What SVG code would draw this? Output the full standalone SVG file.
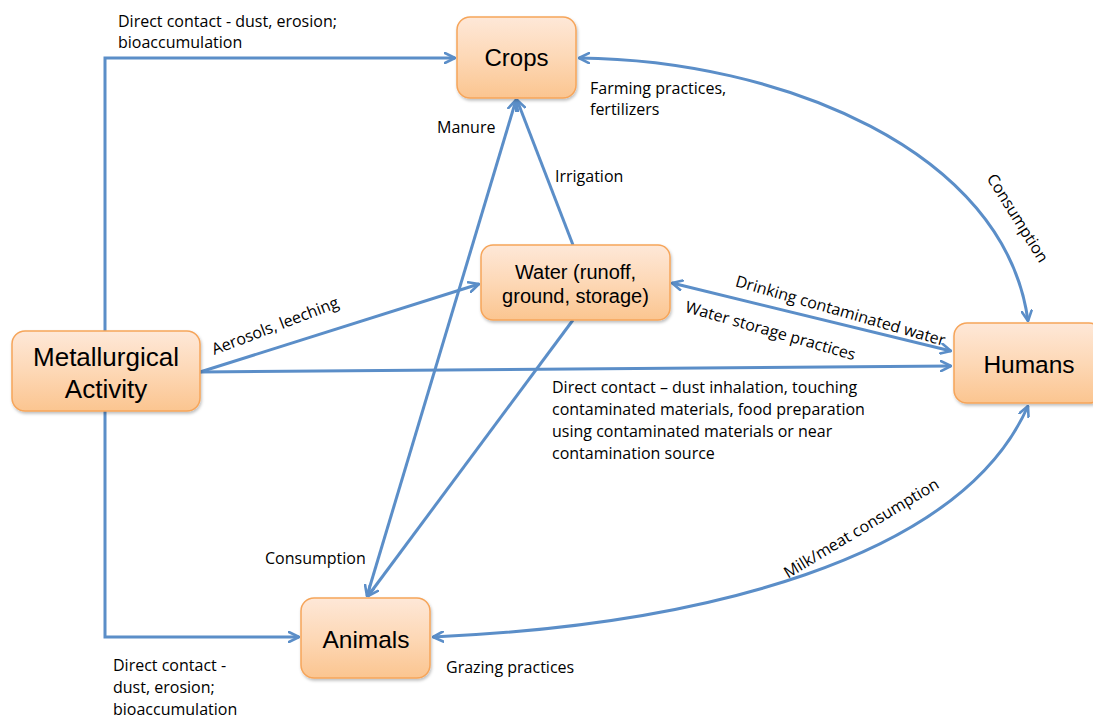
<svg xmlns="http://www.w3.org/2000/svg" width="1093" height="719" viewBox="0 0 1093 719">
  <defs>
    <linearGradient id="boxFill" x1="0" y1="0" x2="0" y2="1">
      <stop offset="0" stop-color="#fee8d8"/>
      <stop offset="0.5" stop-color="#fdd8b6"/>
      <stop offset="1" stop-color="#fbc590"/>
    </linearGradient>
    <filter id="shadow" x="-10%" y="-10%" width="130%" height="130%">
      <feDropShadow dx="1" dy="2" stdDeviation="1.5" flood-color="#000" flood-opacity="0.25"/>
    </filter>
    <marker id="arrow" viewBox="0 0 12 12" refX="11" refY="6" markerWidth="12" markerHeight="12" markerUnits="userSpaceOnUse" orient="auto-start-reverse">
      <path d="M1,1 L11,6 L1,11" fill="none" stroke="#5b8ec8" stroke-width="2.6" stroke-linecap="round" stroke-linejoin="round"/>
    </marker>
    <style>
      .box { fill: url(#boxFill); stroke: #f6a55a; stroke-width: 1.5; filter: url(#shadow); }
      .node { font-family: "Liberation Sans", Arial, sans-serif; fill: #000; text-anchor: middle; }
      .conn { fill: none; stroke: #5b8ec8; stroke-width: 3; }
      .lbl { font-family: "Open Sans", "Liberation Sans", sans-serif; font-size: 16px; fill: #000; }
    </style>
  </defs>
  <rect width="1093" height="719" fill="#fff"/>

  <!-- connectors -->
  <g id="connectors">
    <path class="conn" d="M105,331 V58 H455" marker-end="url(#arrow)"/>
    <path class="conn" d="M105,410 V637 H299" marker-end="url(#arrow)"/>
    <path class="conn" d="M200,372 L479,284" marker-end="url(#arrow)"/>
    <path class="conn" d="M200,372 L951,366" marker-end="url(#arrow)"/>
    <path class="conn" d="M573,245 L517,100" marker-end="url(#arrow)"/>
    <path class="conn" d="M516,100 L367,596" marker-start="url(#arrow)" marker-end="url(#arrow)"/>
    <path class="conn" d="M573,320 L368,596" marker-end="url(#arrow)"/>
    <path class="conn" d="M672,283 L951,351" marker-start="url(#arrow)" marker-end="url(#arrow)"/>
    <path class="conn" d="M579,58 C780,60 1005,150 1028,321" marker-start="url(#arrow)" marker-end="url(#arrow)"/>
    <path class="conn" d="M433,637 C700,625 960,560 1028,406" marker-start="url(#arrow)" marker-end="url(#arrow)"/>
  </g>

  <!-- connector labels -->
  <g id="labels">
    <text class="lbl" x="118" y="27">Direct contact - dust, erosion;</text>
    <text class="lbl" x="118" y="48">bioaccumulation</text>
    <text class="lbl" x="113" y="671">Direct contact -</text>
    <text class="lbl" x="113" y="693">dust, erosion;</text>
    <text class="lbl" x="113" y="715">bioaccumulation</text>
    <text class="lbl" x="590" y="94">Farming practices,</text>
    <text class="lbl" x="590" y="115">fertilizers</text>
    <text class="lbl" x="437" y="133">Manure</text>
    <text class="lbl" x="555" y="182">Irrigation</text>
    <text class="lbl" x="265" y="564">Consumption</text>
    <text class="lbl" x="446" y="673">Grazing practices</text>
    <text class="lbl" x="552" y="393">Direct contact – dust inhalation, touching</text>
    <text class="lbl" x="552" y="415">contaminated materials, food preparation</text>
    <text class="lbl" x="552" y="437">using contaminated materials or near</text>
    <text class="lbl" x="552" y="459">contamination source</text>
    <text class="lbl" text-anchor="middle" transform="translate(277,331) rotate(-21)">Aerosols, leeching</text>
    <text class="lbl" text-anchor="middle" transform="translate(839,316) rotate(16)">Drinking contaminated water</text>
    <text class="lbl" text-anchor="middle" transform="translate(769,336) rotate(16)">Water storage practices</text>
    <text class="lbl" text-anchor="middle" transform="translate(1013,221) rotate(58)">Consumption</text>
    <text class="lbl" text-anchor="middle" transform="translate(864,533) rotate(-31)">Milk/meat consumption</text>
  </g>

  <!-- nodes -->
  <g id="crops">
    <rect class="box" x="457" y="17" width="119" height="81" rx="13"/>
    <text class="node" x="516.5" y="66" font-size="24">Crops</text>
  </g>
  <g id="water">
    <rect class="box" x="481" y="245" width="189" height="75" rx="12"/>
    <text class="node" x="575.5" y="279" font-size="20">Water (runoff,</text>
    <text class="node" x="575.5" y="303" font-size="20">ground, storage)</text>
  </g>
  <g id="metallurgical">
    <rect class="box" x="12" y="331" width="188" height="80" rx="13"/>
    <text class="node" x="106" y="366" font-size="26">Metallurgical</text>
    <text class="node" x="106" y="398" font-size="26">Activity</text>
  </g>
  <g id="humans">
    <rect class="box" x="954" y="323" width="148" height="80" rx="13"/>
    <text class="node" x="1029" y="373" font-size="24.5">Humans</text>
  </g>
  <g id="animals">
    <rect class="box" x="301" y="598" width="129" height="80" rx="13"/>
    <text class="node" x="366" y="648" font-size="24.5">Animals</text>
  </g>
</svg>
